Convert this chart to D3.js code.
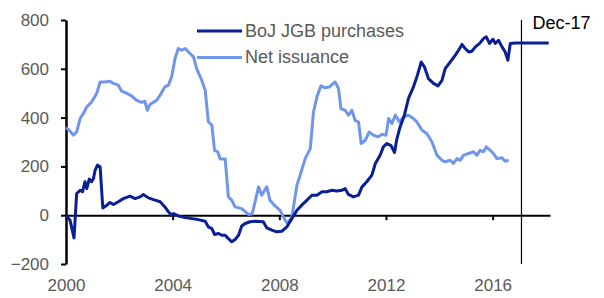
<!DOCTYPE html>
<html>
<head>
<meta charset="utf-8">
<script src="https://cdn.jsdelivr.net/npm/d3@7"></script>
<style>
  body { margin: 0; background: #fff; }
  text { font-family: "Liberation Sans", Arial, sans-serif; }
</style>
</head>
<body>
<div id="chart"></div>
<script>
// [decimal year, value]
var bojPurchases = [
  [2000.0, 0], [2000.15, -20], [2000.3, -93], [2000.4, 89], [2000.53, 102], [2000.62, 96],
  [2000.71, 137], [2000.78, 109], [2000.87, 148], [2000.96, 137], [2001.03, 150], [2001.09, 184],
  [2001.18, 205], [2001.28, 198], [2001.38, 30], [2001.53, 41], [2001.65, 52], [2001.78, 44],
  [2001.96, 55], [2002.15, 68], [2002.4, 78], [2002.59, 68], [2002.78, 75], [2002.9, 85],
  [2003.09, 71], [2003.28, 64], [2003.53, 55], [2003.71, 34], [2003.84, 14], [2003.96, 0],
  [2004.03, 7], [2004.21, -3], [2004.47, -10], [2004.72, -14], [2004.96, -18], [2005.22, -25],
  [2005.34, -48], [2005.47, -55], [2005.57, -79], [2005.72, -75], [2005.84, -82], [2005.97, -82],
  [2006.09, -96], [2006.22, -109], [2006.34, -100], [2006.47, -82], [2006.59, -44], [2006.72, -34],
  [2006.9, -27], [2007.09, -25], [2007.4, -27], [2007.53, -52], [2007.72, -61], [2007.9, -68],
  [2008.09, -66], [2008.28, -48], [2008.47, -14], [2008.66, 20], [2008.84, 41], [2009.03, 61],
  [2009.22, 82], [2009.41, 82], [2009.6, 96], [2009.78, 96], [2009.97, 102], [2010.16, 99],
  [2010.34, 102], [2010.47, 109], [2010.59, 85], [2010.78, 75], [2010.97, 82], [2011.1, 116],
  [2011.28, 137], [2011.47, 164], [2011.6, 212], [2011.78, 246], [2011.9, 280], [2012.03, 294],
  [2012.19, 285], [2012.32, 257], [2012.41, 314], [2012.53, 362], [2012.69, 410], [2012.84, 478],
  [2013.03, 526], [2013.16, 567], [2013.32, 628], [2013.44, 608], [2013.59, 560], [2013.78, 540],
  [2013.95, 530], [2014.1, 553], [2014.22, 601], [2014.41, 628], [2014.6, 656], [2014.72, 676],
  [2014.85, 700], [2014.97, 683], [2015.1, 669], [2015.22, 672], [2015.35, 690], [2015.51, 704],
  [2015.66, 724], [2015.76, 731], [2015.88, 704], [2016.01, 721], [2016.1, 704], [2016.22, 717],
  [2016.35, 690], [2016.47, 669], [2016.57, 635], [2016.66, 704], [2016.85, 706], [2018.1, 706]
];

var netIssuance = [
  [2000.0, 358], [2000.13, 348], [2000.27, 328], [2000.4, 341], [2000.53, 396], [2000.65, 417],
  [2000.78, 444], [2000.96, 464], [2001.15, 499], [2001.28, 546], [2001.46, 546], [2001.65, 549],
  [2001.78, 540], [2001.96, 533], [2002.09, 508], [2002.28, 499], [2002.46, 489], [2002.65, 471],
  [2002.84, 462], [2002.96, 467], [2003.05, 430], [2003.15, 454], [2003.4, 471], [2003.53, 492],
  [2003.71, 526], [2003.84, 533], [2003.96, 567], [2004.09, 642], [2004.21, 683], [2004.34, 676],
  [2004.47, 683], [2004.65, 663], [2004.78, 649], [2004.9, 601], [2005.09, 553], [2005.22, 512],
  [2005.34, 382], [2005.47, 369], [2005.57, 266], [2005.69, 260], [2005.78, 230], [2005.97, 230],
  [2006.09, 75], [2006.22, 61], [2006.34, 34], [2006.59, 27], [2006.84, 3], [2006.97, 5],
  [2007.03, 27], [2007.22, 116], [2007.34, 82], [2007.53, 116], [2007.65, 61], [2007.84, 38],
  [2008.03, 20], [2008.15, -7], [2008.3, -34], [2008.47, -7], [2008.66, 123], [2008.78, 164],
  [2008.97, 232], [2009.16, 273], [2009.28, 423], [2009.41, 485], [2009.56, 530], [2009.72, 522],
  [2009.88, 526], [2010.09, 546], [2010.22, 519], [2010.31, 437], [2010.47, 430], [2010.59, 410],
  [2010.72, 430], [2010.84, 389], [2010.97, 382], [2011.07, 294], [2011.22, 307], [2011.37, 341],
  [2011.53, 328], [2011.7, 321], [2011.85, 332], [2012.0, 328], [2012.1, 396], [2012.22, 376],
  [2012.35, 410], [2012.5, 382], [2012.66, 403], [2012.84, 410], [2013.03, 396], [2013.16, 382],
  [2013.35, 348], [2013.53, 335], [2013.72, 301], [2013.91, 246], [2014.1, 225], [2014.22, 219],
  [2014.41, 225], [2014.53, 212], [2014.66, 232], [2014.78, 225], [2014.91, 246], [2015.1, 253],
  [2015.28, 260], [2015.41, 246], [2015.53, 266], [2015.66, 260], [2015.76, 280], [2015.91, 266],
  [2016.03, 253], [2016.16, 232], [2016.35, 235], [2016.47, 221], [2016.6, 225]
];

var xTicks = [2000, 2004, 2008, 2012, 2016];
var yTicks = [-200, 0, 200, 400, 600, 800];
var seriesNames = ["BoJ JGB purchases", "Net issuance"];
var markerDate = 2017.08;
var markerLabel = "Dec-17";

var svgWidth = 604;
var svgHeight = 298;
var margin = { top: 20, right: 54, bottom: 34, left: 66 };
var width = svgWidth - margin.left - margin.right;
var height = svgHeight - margin.top - margin.bottom;

var darkBlue = "#0a1f96";
var lightBlue = "#6f96ec";
var grey = "#595959";

var svg = d3.select("#chart")
  .append("svg")
  .attr("width", svgWidth)
  .attr("height", svgHeight);

var chartGroup = svg.append("g")
  .attr("transform", `translate(${margin.left}, ${margin.top})`);

var xScale = d3.scaleLinear().domain([2000, 2018.15]).range([0, width]);
var yScale = d3.scaleLinear().domain([-200, 800]).range([height, 0]);

// y axis
var leftAxis = d3.axisLeft(yScale)
  .tickValues(yTicks)
  .tickSize(5)
  .tickSizeOuter(0)
  .tickPadding(12)
  .tickFormat(d3.format("d"));

var yAxisG = chartGroup.append("g").call(leftAxis);
yAxisG.select(".domain").attr("stroke", "#000").attr("stroke-width", 2.5);
yAxisG.selectAll(".tick line").attr("stroke", "#000").attr("stroke-width", 2);
yAxisG.selectAll("text")
  .attr("fill", grey)
  .style("font-size", "17px");

// x axis drawn along zero, labels at the bottom
var bottomAxis = d3.axisBottom(xScale)
  .tickValues(xTicks)
  .tickSize(5)
  .tickSizeOuter(0)
  .tickFormat(d3.format("d"));

var xAxisG = chartGroup.append("g")
  .attr("transform", `translate(0, ${yScale(0)})`)
  .call(bottomAxis);
xAxisG.select(".domain").attr("stroke", "#000").attr("stroke-width", 2);
xAxisG.selectAll(".tick line").attr("stroke", "#000").attr("stroke-width", 2);
xAxisG.selectAll("text")
  .attr("y", height - yScale(0) + 15)
  .attr("fill", grey)
  .style("font-size", "17px");

// marker line
chartGroup.append("line")
  .attr("x1", xScale(markerDate))
  .attr("x2", xScale(markerDate))
  .attr("y1", yScale(800))
  .attr("y2", yScale(-200))
  .attr("stroke", "#000")
  .attr("stroke-width", 1.2);

chartGroup.append("text")
  .attr("x", xScale(markerDate) + 11)
  .attr("y", yScale(800) + 8.5)
  .attr("fill", "#000")
  .style("font-size", "18px")
  .text(markerLabel);

var line = d3.line()
  .x(d => xScale(d[0]))
  .y(d => yScale(d[1]));

chartGroup.append("path")
  .datum(netIssuance)
  .attr("d", line)
  .attr("fill", "none")
  .attr("stroke", lightBlue)
  .attr("stroke-width", 3)
  .attr("stroke-linejoin", "round");

chartGroup.append("path")
  .datum(bojPurchases)
  .attr("d", line)
  .attr("fill", "none")
  .attr("stroke", darkBlue)
  .attr("stroke-width", 3)
  .attr("stroke-linejoin", "round");

// legend
var legend = svg.append("g").attr("transform", "translate(197, 31)");
[darkBlue, lightBlue].forEach(function(color, i) {
  legend.append("line")
    .attr("x1", 0)
    .attr("x2", 45)
    .attr("y1", i * 26.5)
    .attr("y2", i * 26.5)
    .attr("stroke", color)
    .attr("stroke-width", 3);
  legend.append("text")
    .attr("x", 48)
    .attr("y", i * 26.5 + 5.5)
    .attr("fill", grey)
    .style("font-size", "18px")
    .text(seriesNames[i]);
});
</script>
</body>
</html>
